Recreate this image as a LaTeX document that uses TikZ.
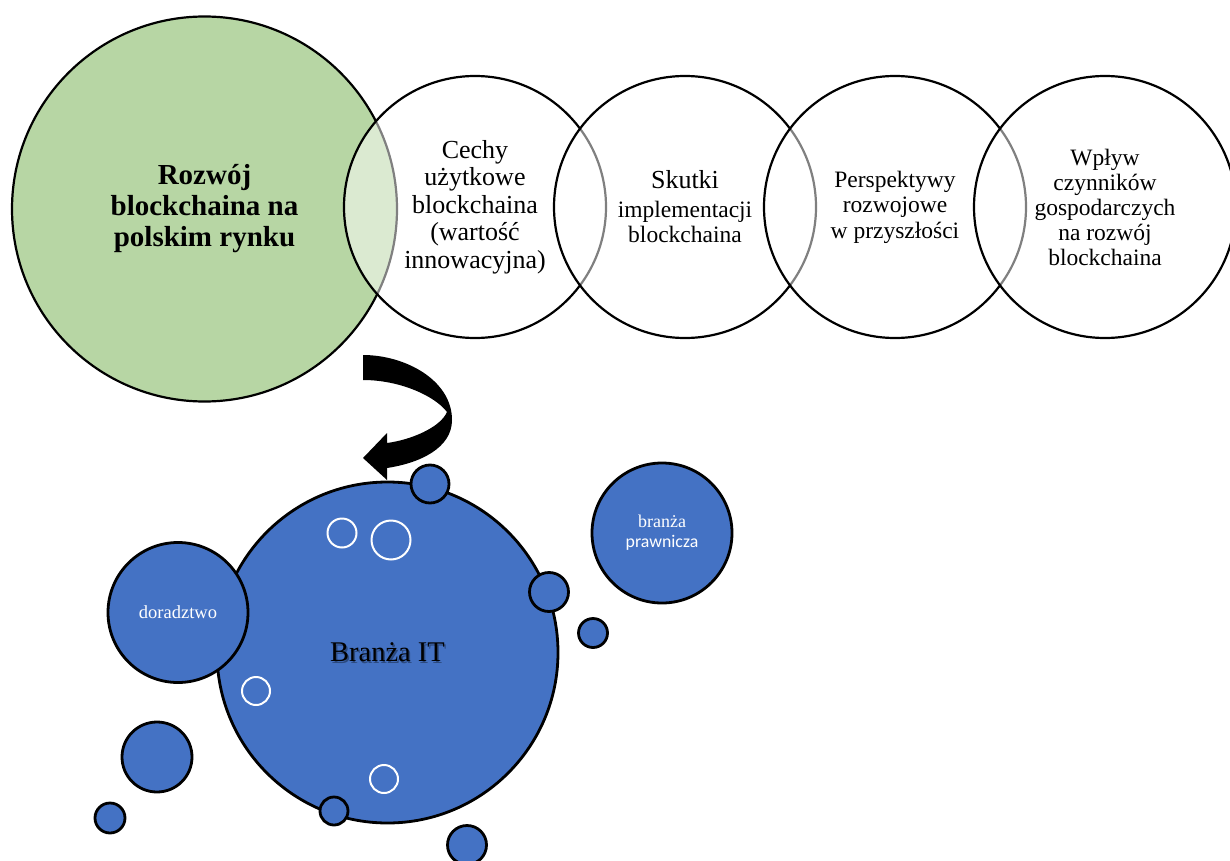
\documentclass[tikz,border=0pt]{standalone}
\usepackage{fontspec}
\setmainfont{Liberation Serif}
\newfontfamily\carlito{Carlito}
\definecolor{topicgreen}{RGB}{183,214,164}
\definecolor{itblue}{RGB}{68,114,196}
\begin{document}
\begin{tikzpicture}[x=1pt,y=-1pt,
  venn/.style={circle, draw=black, line width=2.2pt, fill=white, fill opacity=0.5,
    text opacity=1, inner sep=0pt, minimum size=262pt, align=center},
  bubble/.style={circle, draw=black, line width=2.8pt, fill=itblue, inner sep=0pt},
  ring/.style={circle, draw=white, line width=2pt, inner sep=0pt},
  bubbletext/.style={text=white, align=center}]
\useasboundingbox (0,0) rectangle (1230,861);
\begin{scope}
\clip (0,0) rectangle (1230,861);

% main topic and the four overlapping aspects
\node[circle, draw=black, line width=2.2pt, fill=topicgreen, minimum size=385pt,
  inner sep=0pt, align=center, font=\fontsize{29}{31}\selectfont\bfseries]
  (main) at (204.5,209) {Rozwój\\blockchaina na\\polskim rynku};
\node[venn, font=\fontsize{26}{27.5}\selectfont] (c1) at (475,207)
  {Cechy\\użytkowe\\blockchaina\\(wartość\\innowacyjna)};
\node[venn, font=\fontsize{23.5}{25.5}\selectfont] (c2) at (685,207)
  {{\fontsize{26}{27}\selectfont Skutki}\\[3pt]implementacji\\blockchaina};
\node[venn, font=\fontsize{23.5}{25.5}\selectfont] (c3) at (895,207)
  {Perspektywy\\rozwojowe\\w przyszłości};
\node[venn, font=\fontsize{23.5}{25}\selectfont] (c4) at (1105,207)
  {Wpływ\\czynników\\gospodarczych\\na rozwój\\blockchaina};

% curved arrow leading down to the sector bubbles
\fill[black] (363,355) .. controls (405,355) and (452,380) .. (452,420)
  .. controls (452,448) and (420,463) .. (387,468) -- (387,480) -- (363,458)
  -- (387,433) -- (387,443) .. controls (410,440) and (440,428) .. (447,412)
  .. controls (435,396) and (400,380) .. (363,380) -- cycle;

% sector bubbles
\node[bubble, minimum size=341pt] (it) at (387.5,652.5) {};
\node[bubble, minimum size=140pt, bubbletext, font=\fontsize{18.5}{20}\selectfont]
  (dor) at (178,612.5) {doradztwo};
\node[bubble, minimum size=38pt] (s1) at (430,484) {};
\node[bubble, minimum size=39pt] (s2) at (549,592) {};
\node[bubble, minimum size=29pt] (s3) at (593,633) {};
\node[bubble, minimum size=70pt] (s4) at (157,757) {};
\node[bubble, minimum size=30pt] (s5) at (110,818) {};
\node[bubble, minimum size=28pt] (s6) at (334,811) {};
\node[bubble, minimum size=39pt] (s7) at (467,845) {};
\node[bubble, minimum size=140pt, bubbletext, font=\fontsize{18}{20}\selectfont]
  (law) at (662,533) {branża\\{\carlito\fontsize{17.8}{20}\selectfont prawnicza}};

% hollow rings inside the IT bubble
\node[ring, minimum size=29pt] (r1) at (342,533) {};
\node[ring, minimum size=39pt] (r2) at (391,540) {};
\node[ring, minimum size=28pt] (r3) at (256,691) {};
\node[ring, minimum size=28pt] (r4) at (384,779) {};

% label of the IT bubble with its soft shadow
\node[text=black, opacity=0.35, font=\fontsize{28.5}{30}\selectfont]
  (itshadow) at ([shift={(1.5,1.5)}]it.center) {Branża IT};
\node[text=black, font=\fontsize{28.5}{30}\selectfont] (itlabel) at (it.center) {Branża IT};
\end{scope}
\end{tikzpicture}
\end{document}
